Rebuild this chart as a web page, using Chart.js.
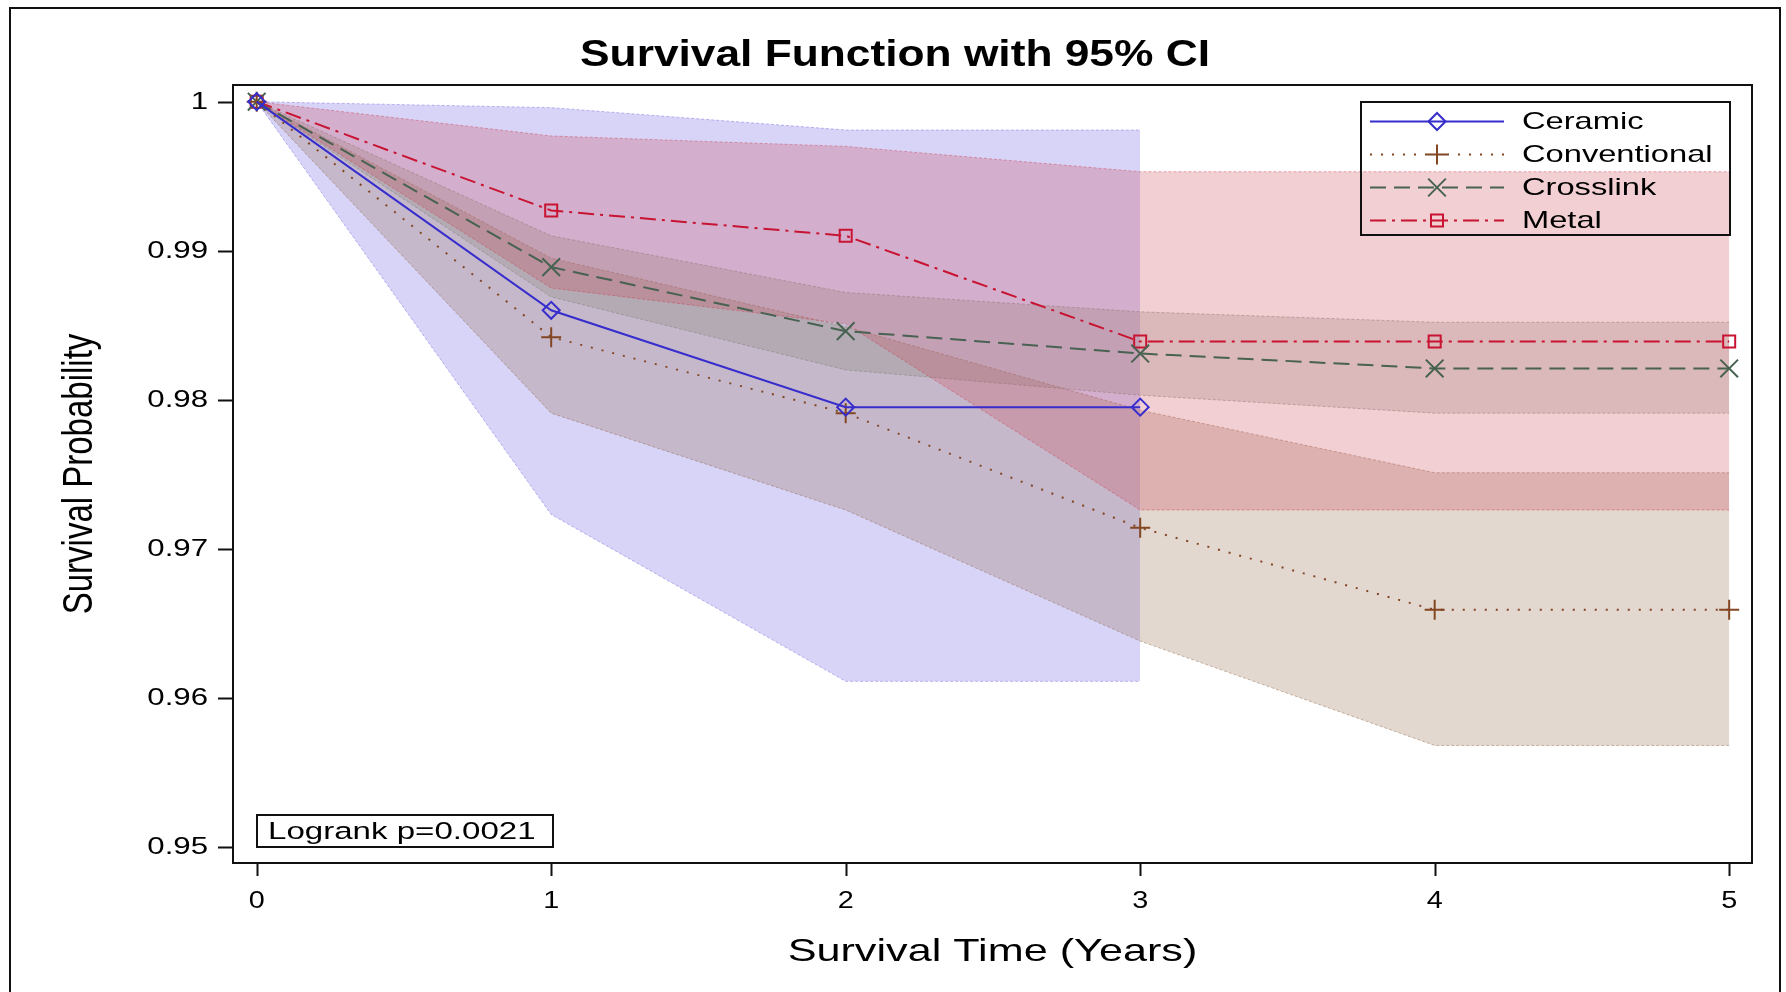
<!DOCTYPE html>
<html>
<head>
<meta charset="utf-8">
<title>Survival Function with 95% CI</title>
<script src="https://cdn.jsdelivr.net/npm/chart.js@4.4.1/dist/chart.umd.min.js"></script>
<style>
  html, body { margin: 0; padding: 0; background: #fff; }
  #wrap { position: relative; width: 1786px; height: 992px; overflow: hidden; }
  #frame { position: absolute; left: 9px; top: 7px; width: 1772px; height: 1000px;
           border: 2px solid #111; border-bottom: none; box-sizing: border-box; }
  canvas { position: absolute; left: 0; top: 0; }
</style>
</head>
<body>
<div id="wrap">
  <div id="frame"></div>
  <canvas id="survChart" width="1786" height="992"></canvas>
</div>
<script>
// Data (Kaplan-Meier estimates + 95% CI)
const times = [0, 1, 2, 3, 4, 5];

const ceramicSurv  = [1, 0.9860, 0.9795, 0.9795];
const ceramicLower = [1, 0.9723, 0.9611, 0.9611];
const ceramicUpper = [1, 0.9996, 0.9981, 0.9981];

const conventionalSurv  = [1, 0.9842, 0.9791, 0.9714, 0.9659, 0.9659];
const conventionalLower = [1, 0.9791, 0.9726, 0.9638, 0.9568, 0.9568];
const conventionalUpper = [1, 0.9895, 0.9849, 0.9793, 0.9751, 0.9751];

const crosslinkSurv  = [1, 0.9889, 0.9846, 0.9831, 0.9821, 0.9821];
const crosslinkLower = [1, 0.9869, 0.9820, 0.9803, 0.9791, 0.9791];
const crosslinkUpper = [1, 0.9910, 0.9872, 0.9859, 0.9852, 0.9852];

const metalSurv  = [1, 0.9927, 0.9910, 0.9839, 0.9839, 0.9839];
const metalLower = [1, 0.9875, 0.9851, 0.9726, 0.9726, 0.9726];
const metalUpper = [1, 0.9977, 0.9970, 0.9953, 0.9953, 0.9953];

const xTicks = [0, 1, 2, 3, 4, 5];
const yTicks = [0.95, 0.96, 0.97, 0.98, 0.99, 1];
const yTickLabels = ["0.95", "0.96", "0.97", "0.98", "0.99", "1"];

const chartTitle = "Survival Function with 95% CI";
const xTitle = "Survival Time (Years)";
const yTitle = "Survival Probability";
const pValueText = "Logrank p=0.0021";

const FONT = "'Liberation Sans', Arial, sans-serif";

function pts(vals) {
    return vals.map((v, i) => ({ x: times[i], y: v }));
}

// band = lower edge dataset + upper edge dataset filled down to it
function band(label, lower, upper, rgb, alpha, order) {
    const edge = "rgba(" + rgb + ",0.45)";
    const common = {
        type: "line",
        pointRadius: 0,
        borderWidth: 1,
        borderDash: [3, 2],
        borderColor: edge,
        tension: 0,
        order: order
    };
    return [
        Object.assign({}, common, { label: label + " lower", data: pts(lower), fill: false }),
        Object.assign({}, common, {
            label: label + " upper", data: pts(upper), fill: "-1",
            backgroundColor: "rgba(" + rgb + "," + alpha + ")"
        })
    ];
}

function curve(label, vals, color, dash, style, radius) {
    return {
        type: "line",
        label: label,
        data: pts(vals),
        borderColor: color,
        borderWidth: 2,
        borderDash: dash,
        tension: 0,
        fill: false,
        pointStyle: style,
        pointRadius: radius,
        pointBorderWidth: 2,
        pointBorderColor: color,
        pointBackgroundColor: "rgba(0,0,0,0)",
        order: 0,
        isCurve: true
    };
}

const datasets = [].concat(
    band("Ceramic", ceramicLower, ceramicUpper, "110,100,225", 0.28, 4),
    band("Conventional", conventionalLower, conventionalUpper, "143,99,67", 0.25, 3),
    band("Crosslink", crosslinkLower, crosslinkUpper, "120,125,110", 0.23, 2),
    band("Metal", metalLower, metalUpper, "203,63,79", 0.25, 1),
    [
        curve("Ceramic", ceramicSurv, "rgb(55,45,205)", [], "rectRot", 8.5),
        curve("Conventional", conventionalSurv, "rgb(130,70,35)", [2, 9], "cross", 10),
        curve("Crosslink", crosslinkSurv, "rgb(72,98,82)", [16, 8], "crossRot", 12.5),
        curve("Metal", metalSurv, "rgb(200,20,50)", [16, 6, 3, 6], "rect", 8.5)
    ]
);

function stretchText(ctx, text, x, y, font, align, sx) {
    ctx.save();
    ctx.translate(x, y);
    ctx.scale(sx, 1);
    ctx.font = font;
    ctx.textAlign = align;
    ctx.textBaseline = "middle";
    ctx.fillStyle = "#000";
    ctx.fillText(text, 0, 0);
    ctx.restore();
}

// axes frame, ticks, titles, legend and p-value box
const decorPlugin = {
    id: "decor",
    afterDraw(chart) {
        const ctx = chart.ctx;
        const a = chart.chartArea;
        const xs = chart.scales.x;
        const ys = chart.scales.y;

        ctx.save();
        ctx.strokeStyle = "#111";
        ctx.lineWidth = 2;
        ctx.strokeRect(a.left, a.top, a.right - a.left, a.bottom - a.top);

        // tick marks
        ctx.beginPath();
        yTicks.forEach(v => {
            const y = Math.round(ys.getPixelForValue(v)) + 0.5;
            ctx.moveTo(a.left - 15, y);
            ctx.lineTo(a.left, y);
        });
        xTicks.forEach(v => {
            const x = Math.round(xs.getPixelForValue(v)) + 0.5;
            ctx.moveTo(x, a.bottom);
            ctx.lineTo(x, a.bottom + 13);
        });
        ctx.stroke();
        ctx.restore();

        // tick labels
        yTicks.forEach((v, i) => {
            stretchText(ctx, yTickLabels[i], a.left - 25, ys.getPixelForValue(v) + 1, "24px " + FONT, "right", 1.3);
        });
        xTicks.forEach(v => {
            stretchText(ctx, String(v), xs.getPixelForValue(v), a.bottom + 38, "24px " + FONT, "center", 1.2);
        });

        // titles
        stretchText(ctx, chartTitle, 895, 56, "bold 36px " + FONT, "center", 1.23);
        stretchText(ctx, xTitle, (a.left + a.right) / 2, a.bottom + 89, "32px " + FONT, "center", 1.35);
        ctx.save();
        ctx.translate(80, (a.top + a.bottom) / 2);
        ctx.rotate(-Math.PI / 2);
        ctx.scale(1, 1.3);
        ctx.font = "33px " + FONT;
        ctx.textAlign = "center";
        ctx.textBaseline = "middle";
        ctx.fillStyle = "#000";
        ctx.fillText(yTitle, 0, 0);
        ctx.restore();

        // legend
        const lg = { left: 1361, top: 102, right: 1730, bottom: 235 };
        ctx.save();
        ctx.strokeStyle = "#111";
        ctx.lineWidth = 2;
        ctx.strokeRect(lg.left, lg.top, lg.right - lg.left, lg.bottom - lg.top);
        ctx.restore();
        const curves = chart.data.datasets.filter(d => d.isCurve);
        curves.forEach((d, i) => {
            const cy = lg.top + 19.5 + i * 33;
            ctx.save();
            ctx.strokeStyle = d.borderColor;
            ctx.lineWidth = 2;
            ctx.setLineDash(d.borderDash);
            ctx.beginPath();
            ctx.moveTo(1370, cy);
            ctx.lineTo(1504, cy);
            ctx.stroke();
            ctx.setLineDash([]);
            ctx.fillStyle = "rgba(0,0,0,0)";
            ctx.lineWidth = 2;
            Chart.helpers.drawPoint(ctx, {
                pointStyle: d.pointStyle, radius: d.pointRadius, rotation: 0, borderWidth: 2
            }, 1437, cy);
            ctx.restore();
            stretchText(ctx, d.label, 1522, cy + 1, "24px " + FONT, "left", 1.36);
        });

        // log-rank box
        ctx.save();
        ctx.strokeStyle = "#111";
        ctx.lineWidth = 2;
        ctx.strokeRect(257, 815, 296, 32);
        ctx.restore();
        stretchText(ctx, pValueText, 268, 832, "24.5px " + FONT, "left", 1.35);
    }
};

const ctx = document.getElementById("survChart").getContext("2d");
new Chart(ctx, {
    type: "line",
    data: { datasets: datasets },
    options: {
        responsive: false,
        animation: false,
        devicePixelRatio: 1,
        layout: { padding: { left: 0, top: 85, right: 34, bottom: 0 } },
        plugins: {
            legend: { display: false },
            title: { display: false },
            tooltip: { enabled: false }
        },
        scales: {
            x: {
                type: "linear",
                min: -0.0805,
                max: 5.0775,
                grid: { display: false },
                border: { display: false },
                ticks: { display: false },
                afterFit: s => { s.height = 129; }
            },
            y: {
                type: "linear",
                min: 0.94891,
                max: 1.00112,
                grid: { display: false },
                border: { display: false },
                ticks: { display: false },
                afterFit: s => { s.width = 233; }
            }
        }
    },
    plugins: [decorPlugin]
});
</script>
</body>
</html>
